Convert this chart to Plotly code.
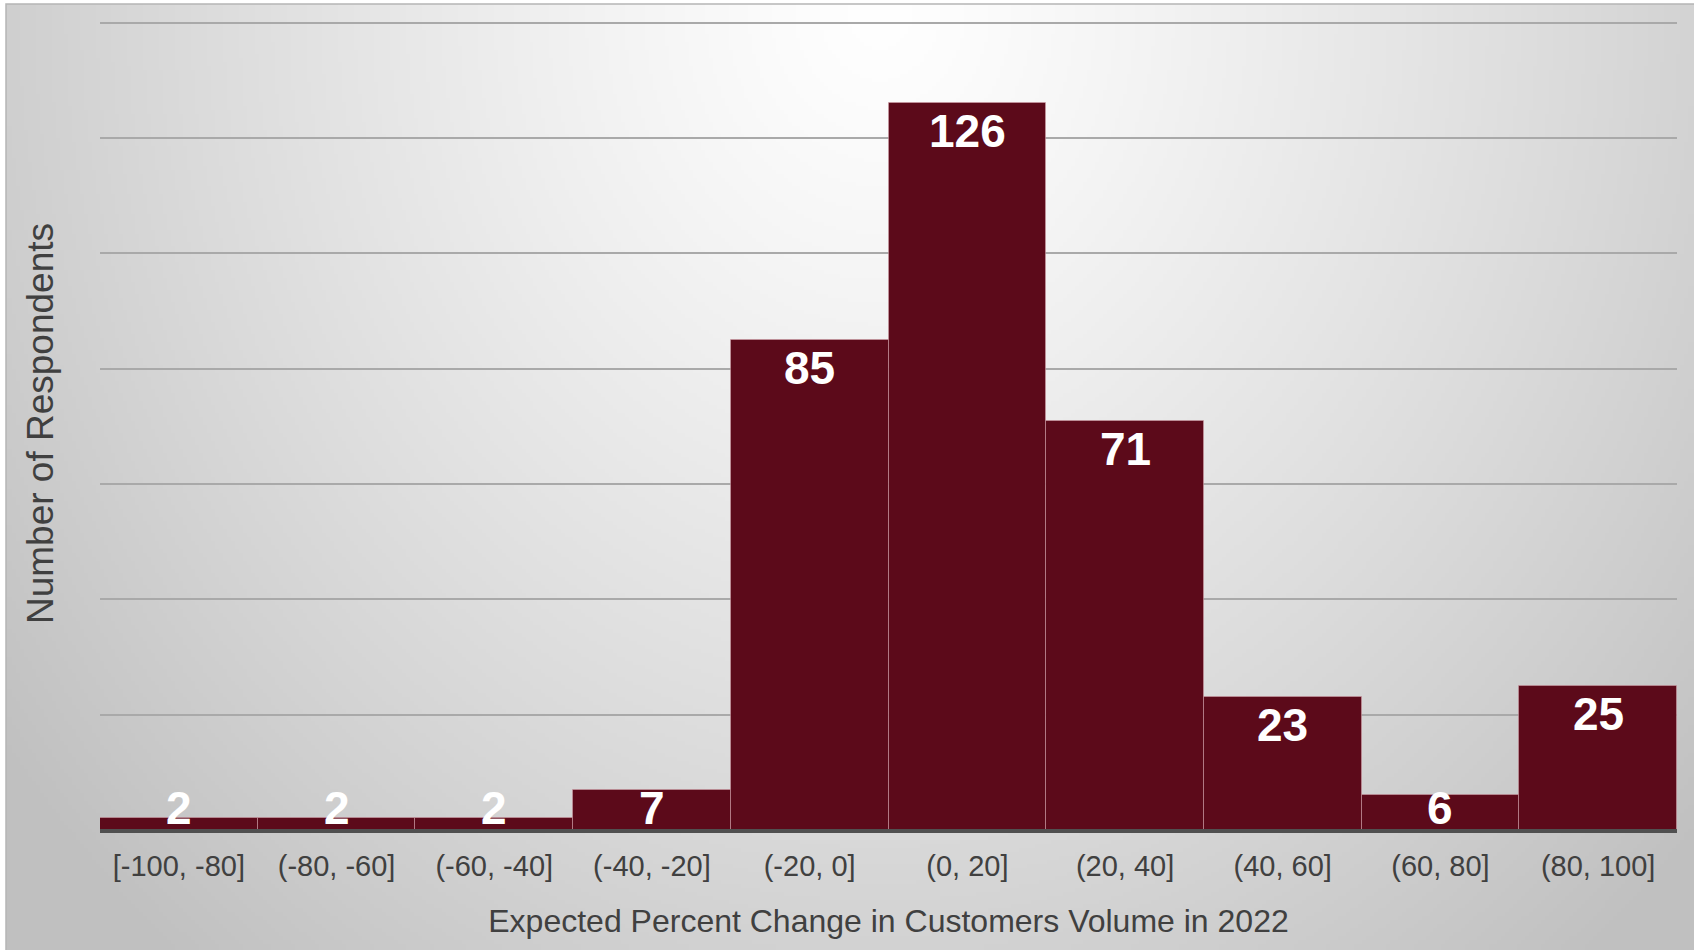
import base64
import struct
import zlib

import numpy as np
import plotly.graph_objects as go

# Histogram bins and respondent counts
bins = ["[-100, -80]", "(-80, -60]", "(-60, -40]", "(-40, -20]", "(-20, 0]",
        "(0, 20]", "(20, 40]", "(40, 60]", "(60, 80]", "(80, 100]"]
counts = [2, 2, 2, 7, 85, 126, 71, 23, 6, 25]
y_ticks = [0, 20, 40, 60, 80, 100, 120, 140]

W, H = 1694, 950
Y_MAX = 141
M_L, M_R, M_T, M_B = 100, 17, 17, 120
PLOT_W = W - M_L - M_R
PLOT_H = H - M_T - M_B

BAR_COLOR = "#5c0a1a"
TEXT_GREY = "#404040"


def png_uri(rgb):
    """Encode an HxWx3 uint8 array as a PNG data URI."""
    h, w, _ = rgb.shape
    raw = b"".join(b"\x00" + rgb[i].tobytes() for i in range(h))

    def chunk(tag, data):
        body = tag + data
        return struct.pack(">I", len(data)) + body + struct.pack(">I", zlib.crc32(body) & 0xFFFFFFFF)

    png = (b"\x89PNG\r\n\x1a\n"
           + chunk(b"IHDR", struct.pack(">IIBBBBB", w, h, 8, 2, 0, 0, 0))
           + chunk(b"IDAT", zlib.compress(raw, 9))
           + chunk(b"IEND", b""))
    return "data:image/png;base64," + base64.b64encode(png).decode()


# Radial grey-to-white backdrop, brightest near the top centre
BX0, BY0, BX1, BY1 = 6, 4, W, H
gw, gh = 424, 237
xs = np.linspace(BX0, BX1, gw)
ys = np.linspace(BY0, BY1, gh)
gx, gy = np.meshgrid(xs, ys)
d = np.sqrt(((gx - 880) / 880) ** 2 + ((gy - 10) / 1000) ** 2)
shade = np.clip(255 - 48 * d ** 1.2, 192, 255).astype(np.uint8)
backdrop = png_uri(np.dstack([shade, shade, shade]))

px_to_x = lambda px: (px - M_L) / PLOT_W
px_to_y = lambda py: 1 - (py - M_T) / PLOT_H

fig = go.Figure()
fig.add_trace(go.Bar(
    x=bins, y=counts,
    marker=dict(color=BAR_COLOR, line=dict(color="rgba(210,160,170,0.55)", width=1)),
    hoverinfo="x+y",
))

# Value labels sit inside the top of each bar; short bars keep the label on the baseline
LABEL_FLOOR = 8.7
for b, v in zip(bins, counts):
    fig.add_annotation(
        x=b, y=max(v, LABEL_FLOOR), text=str(v), showarrow=False,
        xanchor="center", yanchor="top",
        font=dict(family="Liberation Sans, Arial, sans-serif", size=46, color="white", weight="bold"),
    )

fig.update_layout(
    width=W, height=H,
    margin=dict(l=M_L, r=M_R, t=M_T, b=M_B),
    paper_bgcolor="white",
    plot_bgcolor="rgba(0,0,0,0)",
    bargap=0,
    showlegend=False,
    font=dict(family="Liberation Sans, Arial, sans-serif", color=TEXT_GREY),
    images=[dict(
        source=backdrop, xref="paper", yref="paper",
        x=px_to_x(BX0), y=px_to_y(BY0),
        sizex=(BX1 - BX0) / PLOT_W, sizey=(BY1 - BY0) / PLOT_H,
        xanchor="left", yanchor="top", sizing="stretch", layer="below",
    )],
    shapes=[
        dict(
            type="rect", xref="paper", yref="paper", layer="below",
            x0=px_to_x(BX0), x1=px_to_x(BX1 + 2), y0=px_to_y(BY1 + 2), y1=px_to_y(BY0),
            line=dict(color="#b5b5b5", width=1.5), fillcolor="rgba(0,0,0,0)",
        ),
        # category axis baseline, drawn just under the bar bottoms
        dict(
            type="rect", xref="paper", yref="paper", layer="above",
            x0=0, x1=1, y0=px_to_y(H - M_B + 3), y1=px_to_y(H - M_B - 1),
            line=dict(width=0), fillcolor="#505050",
        ),
    ],
    xaxis=dict(
        showline=False, showgrid=False, ticks="", ticklabelstandoff=16,
        tickfont=dict(size=29, color=TEXT_GREY),
        title=dict(text="Expected Percent Change in Customers Volume in 2022",
                   font=dict(size=32, color=TEXT_GREY), standoff=28),
    ),
    yaxis=dict(
        range=[0, Y_MAX], tickvals=y_ticks, showticklabels=False,
        showgrid=True, gridcolor="#a9a9a9", gridwidth=1.5,
        zeroline=False, showline=False,
        title=dict(text="Number of Respondents", font=dict(size=37, color=TEXT_GREY), standoff=34),
    ),
)

fig.write_html("out.html")
